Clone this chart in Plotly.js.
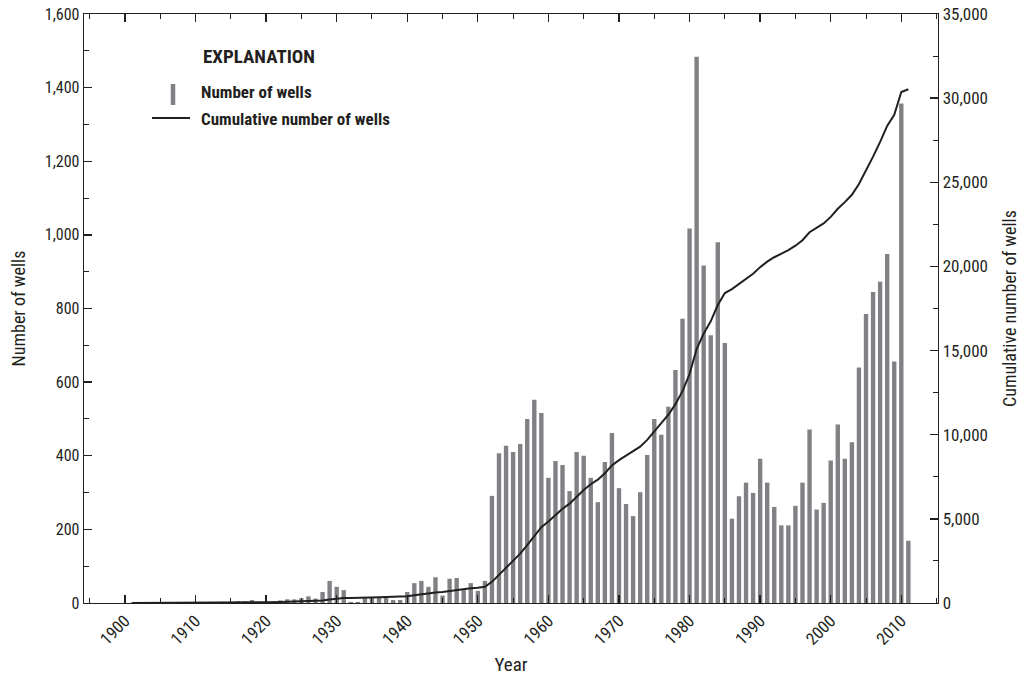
<!DOCTYPE html>
<html>
<head>
<meta charset="utf-8">
<script src="https://cdn.plot.ly/plotly-3.0.1.min.js"></script>
<style>
  html, body { margin: 0; padding: 0; background: #ffffff; }
  #chart { width: 1021px; height: 679px; }
</style>
</head>
<body>
<div id="chart"></div>
<script>
const years = [
  1901,1902,1903,1904,1905,1906,1907,1908,1909,1910,
  1911,1912,1913,1914,1915,1916,1917,1918,1919,1920,
  1921,1922,1923,1924,1925,1926,1927,1928,1929,1930,
  1931,1932,1933,1934,1935,1936,1937,1938,1939,1940,
  1941,1942,1943,1944,1945,1946,1947,1948,1949,1950,
  1951,1952,1953,1954,1955,1956,1957,1958,1959,1960,
  1961,1962,1963,1964,1965,1966,1967,1968,1969,1970,
  1971,1972,1973,1974,1975,1976,1977,1978,1979,1980,
  1981,1982,1983,1984,1985,1986,1987,1988,1989,1990,
  1991,1992,1993,1994,1995,1996,1997,1998,1999,2000,
  2001,2002,2003,2004,2005,2006,2007,2008,2009,2010,
  2011
];

const wellsPerYear = [
  1,1,1,1,2,1,1,2,1,2,
  1,2,2,3,2,5,5,8,2,3,
  5,7,10,10,13,18,12,30,60,44,
  35,3,3,15,15,15,15,8,8,30,
  54,60,44,70,20,66,68,35,54,33,
  60,291,407,427,410,432,500,552,516,340,
  386,375,304,410,400,340,274,383,462,312,
  269,236,301,402,500,457,533,633,772,1017,
  1484,917,727,980,706,229,290,327,299,392,
  327,261,211,211,264,327,471,254,272,387,
  485,392,437,640,785,845,873,948,656,1357,
  169
];

const cumulativeWells = [
  1,2,3,4,6,7,8,10,11,13,
  14,16,18,21,23,28,33,41,43,46,
  51,58,68,78,91,109,121,151,211,255,
  290,293,296,311,326,341,356,364,372,402,
  456,516,560,630,650,716,784,819,873,906,
  966,1257,1664,2091,2501,2933,3433,3985,4501,4841,
  5227,5602,5906,6316,6716,7056,7330,7713,8175,8487,
  8756,8992,9293,9695,10195,10652,11185,11818,12590,13607,
  15091,16008,16735,17715,18421,18650,18940,19267,19566,19958,
  20285,20546,20757,20968,21232,21559,22030,22284,22556,22943,
  23428,23820,24257,24897,25682,26527,27400,28348,29004,30361,
  30530
];

const legendTitle = 'EXPLANATION';
const barLabel = 'Number of wells';
const lineLabel = 'Cumulative number of wells';
const xTitle = 'Year';
const yTitle = 'Number of wells';
const y2Title = 'Cumulative number of wells';

const INK = '#231f20';
const BAR = '#808184';
const FONT = '"Liberation Sans Narrow", "Arial Narrow", "Roboto Condensed", sans-serif';

const traces = [
  {
    type: 'bar',
    x: years,
    y: wellsPerYear,
    name: barLabel,
    marker: { color: BAR, line: { width: 0 } },
    width: 0.62,
    hoverinfo: 'x+y'
  },
  {
    type: 'scatter',
    mode: 'lines',
    x: years,
    y: cumulativeWells,
    name: lineLabel,
    yaxis: 'y2',
    line: { color: INK, width: 2 },
    hoverinfo: 'x+y'
  }
];

const layout = {
  width: 1021,
  height: 679,
  paper_bgcolor: '#ffffff',
  plot_bgcolor: '#ffffff',
  margin: { l: 84, r: 83, t: 14, b: 76 },
  showlegend: false,
  font: { family: FONT, color: INK, size: 16 },
  xaxis: {
    range: [1894.2, 2015.2],
    tickmode: 'linear',
    tick0: 1900,
    dtick: 10,
    ticks: 'inside',
    ticklen: 8,
    tickwidth: 1.3,
    tickcolor: INK,
    tickangle: -45,
    tickfont: { family: FONT, size: 17, color: INK },
    showline: true,
    linecolor: INK,
    linewidth: 1.3,
    mirror: 'ticks',
    showgrid: false,
    zeroline: false,
    minor: { dtick: 5, tick0: 1900, ticks: 'inside', ticklen: 5, tickwidth: 1, tickcolor: INK, showgrid: false },
    title: { text: xTitle, font: { family: FONT, size: 19, color: INK }, standoff: 10 }
  },
  yaxis: {
    range: [0, 1600],
    tickmode: 'linear',
    tick0: 0,
    dtick: 200,
    tickformat: ',',
    ticks: 'inside',
    ticklen: 8,
    tickwidth: 1.3,
    tickcolor: INK,
    tickfont: { family: FONT, size: 16, color: INK },
    showline: true,
    linecolor: INK,
    linewidth: 1.3,
    showgrid: false,
    zeroline: false,
    minor: { dtick: 100, ticks: 'inside', ticklen: 5, tickwidth: 1, tickcolor: INK, showgrid: false },
    title: { text: yTitle, font: { family: FONT, size: 18, color: INK }, standoff: 14 }
  },
  yaxis2: {
    overlaying: 'y',
    side: 'right',
    range: [0, 35000],
    tickmode: 'linear',
    tick0: 0,
    dtick: 5000,
    tickformat: ',',
    ticks: 'inside',
    ticklen: 8,
    tickwidth: 1.3,
    tickcolor: INK,
    tickfont: { family: FONT, size: 17, color: INK },
    showline: true,
    linecolor: INK,
    linewidth: 1.3,
    showgrid: false,
    zeroline: false,
    minor: { dtick: 2500, ticks: 'inside', ticklen: 5, tickwidth: 1, tickcolor: INK, showgrid: false },
    title: { text: y2Title, font: { family: FONT, size: 18, color: INK }, standoff: 16 }
  },
  shapes: [
    { type: 'line', xref: 'paper', yref: 'paper',
      x0: (173 - 84) / 854, x1: (173 - 84) / 854,
      y0: (603 - 84) / 589, y1: (603 - 105) / 589,
      line: { color: BAR, width: 4.5 } },
    { type: 'line', xref: 'paper', yref: 'paper',
      x0: (152 - 84) / 854, x1: (190 - 84) / 854,
      y0: (603 - 118) / 589, y1: (603 - 118) / 589,
      line: { color: INK, width: 2 } }
  ],
  annotations: [
    { xref: 'paper', yref: 'paper', x: (201 - 84) / 854, y: (603 - 56) / 589,
      xanchor: 'left', yanchor: 'middle', showarrow: false,
      text: '<b>' + legendTitle + '</b>',
      font: { family: FONT, size: 19, color: INK } },
    { xref: 'paper', yref: 'paper', x: (199 - 84) / 854, y: (603 - 92) / 589,
      xanchor: 'left', yanchor: 'middle', showarrow: false,
      text: '<b>' + barLabel + '</b>',
      font: { family: FONT, size: 17, color: INK } },
    { xref: 'paper', yref: 'paper', x: (199 - 84) / 854, y: (603 - 119) / 589,
      xanchor: 'left', yanchor: 'middle', showarrow: false,
      text: '<b>' + lineLabel + '</b>',
      font: { family: FONT, size: 17, color: INK } }
  ],
  bargap: 0.38
};

Plotly.newPlot('chart', traces, layout, { displayModeBar: false, staticPlot: true });
</script>
</body>
</html>
